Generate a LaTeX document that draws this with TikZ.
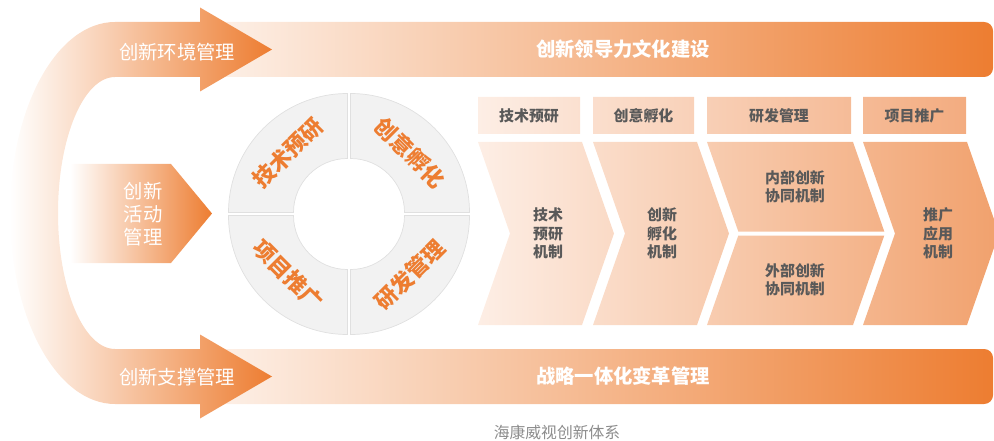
\documentclass[tikz,border=0pt]{standalone}
\usepackage{fontspec}
\setmainfont{Noto Sans CJK SC}
\definecolor{orng}{HTML}{ED7D31}
\definecolor{peach}{HTML}{FDEEE5}
\definecolor{peachd}{HTML}{F1A16D}
\definecolor{peachh}{HTML}{F3AC80}
\definecolor{txtgray}{HTML}{595959}
\definecolor{capgray}{HTML}{8C8C8C}
\definecolor{ringgray}{HTML}{F2F2F2}
\definecolor{ringline}{HTML}{E0E0E0}
\begin{document}
\begin{tikzpicture}[x=0.02cm, y=0.02cm,
  band/.style = {left color=white, right color=orng, rounded corners=5},
  big/.style = {text=white, font=\bfseries\fontsize{11}{13}\selectfont},
  lbl/.style = {text=white, font=\fontsize{11}{13.3}\selectfont, align=center},
  ringtxt/.style = {text=orng, font=\bfseries\fontsize{12.5}{14}\selectfont},
  small/.style = {text=txtgray, font=\bfseries\fontsize{8.5}{10.4}\selectfont, align=center},
  seg/.style = {fill=ringgray, draw=ringline, line width=0.4pt}]
\useasboundingbox (0,0) rectangle (994,440);
\clip (0,0) rectangle (994,440);

\shade[band] (115,363) rectangle (993,418);
\shade[band] (115,36) rectangle (993,91);

\shade[left color=white, right color=orng] (200,418) -- (115,418)
  arc[start angle=90, end angle=270, x radius=105, y radius=191]
  -- (200,36) -- (200,21.5) -- (272,63.5) -- (200,105.5) -- (200,91) -- (115,91)
  arc[start angle=270, end angle=90, x radius=57, y radius=136]
  -- (200,363) -- (200,348.5) -- (272,390.5) -- (200,432.5) -- cycle;
\shade[left color=white, right color=orng] (70,276) -- (171,276) -- (212,226.5) -- (171,177) -- (70,177) -- cycle;

\foreach \a/\dx/\dy in {0/1.5/1.5, 90/-1.5/1.5, 180/-1.5/-1.5, 270/1.5/-1.5}
  \draw[seg, shift={(349+\dx,226+\dy)}] (\a:54) -- (\a:119)
    arc[start angle=\a, end angle=\a+90, radius=119] -- (\a+90:54)
    arc[start angle=\a+90, end angle=\a, radius=54] -- cycle;

\shade[left color=peach, right color=peachh] (478,306) rectangle (580,343)
  (593,306) rectangle (694,343) (707,306) rectangle (851,343) (863,306) rectangle (966,343);
\shade[left color=peach, right color=peachd]
  (478,298) -- (582,298) -- (614,206.5) -- (582,115) -- (478,115) -- (510,206.5) -- cycle
  (593,298) -- (697,298) -- (729,206.5) -- (697,115) -- (593,115) -- (625,206.5) -- cycle
  (707,298) -- (853,298) -- (884.3,208.5) -- (738.3,208.5) -- cycle
  (738.3,204.5) -- (884.3,204.5) -- (853,115) -- (707,115) -- cycle
  (863,298) -- (967,298) -- (999,206.5) -- (967,115) -- (863,115) -- (895,206.5) -- cycle;

\node[big] (lead) at (623,390.5) {创新领导力文化建设};
\node[big] (chg) at (623,63.5) {战略一体化变革管理};
\node[lbl] (env) at (177,388) {创新环境管理};
\node[lbl] (sup) at (177,63) {创新支撑管理};
\node[lbl] (act) at (143,226) {创新\\活动\\管理};

\node[ringtxt, rotate=45] (r1) at (288,287) {技术预研};
\node[ringtxt, rotate=-45] (r2) at (410,287) {创意孵化};
\node[ringtxt, rotate=-45] (r3) at (288,165) {项目推广};
\node[ringtxt, rotate=45] (r4) at (410,165) {研发管理};

\node[small] (h1) at (529,324.5) {技术预研};
\node[small] (h2) at (643.5,324.5) {创意孵化};
\node[small] (h3) at (779,324.5) {研发管理};
\node[small] (h4) at (914.5,324.5) {项目推广};

\node[small] (c1) at (548,206.5) {技术\\预研\\机制};
\node[small] (c2) at (662,206.5) {创新\\孵化\\机制};
\node[small] (c3) at (795,253) {内部创新\\协同机制};
\node[small] (c4) at (795,160) {外部创新\\协同机制};
\node[small] (c5) at (938,206.5) {推广\\应用\\机制};

\node[text=capgray, font=\fontsize{9}{11}\selectfont] (cap) at (557,8) {海康威视创新体系};
\end{tikzpicture}
\end{document}
